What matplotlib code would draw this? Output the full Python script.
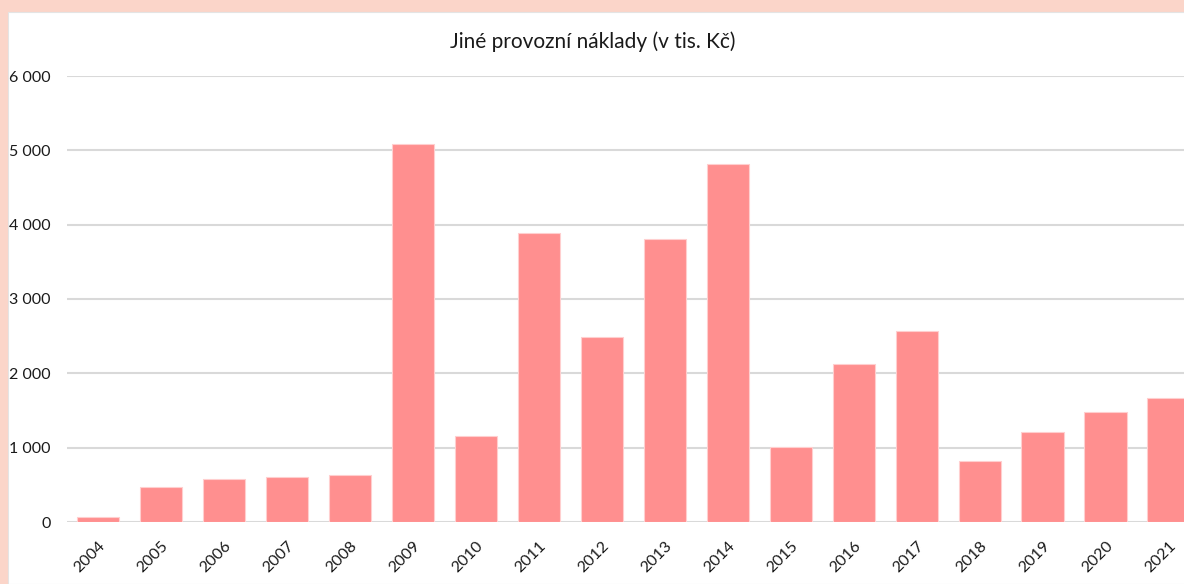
import matplotlib.pyplot as plt
from matplotlib.patches import Rectangle
from matplotlib.ticker import FuncFormatter
from matplotlib.transforms import ScaledTranslation

plt.rcParams['font.family'] = ['Lato', 'DejaVu Sans']

# data (v tis. Kč)
years = ['2004', '2005', '2006', '2007', '2008', '2009', '2010', '2011', '2012',
         '2013', '2014', '2015', '2016', '2017', '2018', '2019', '2020', '2021']
values = [67, 471, 578, 601, 636, 5085, 1157, 3884, 2485,
          3811, 4812, 1005, 2130, 2574, 821, 1211, 1484, 1668]
yticks = [0, 1000, 2000, 3000, 4000, 5000, 6000]

W, H = 1184, 584
fig = plt.figure(figsize=(W / 100, H / 100), dpi=100)
fig.patch.set_facecolor('#fbd5c9')
fig.patches.append(Rectangle((8 / W, 0), 1, (H - 12) / H, transform=fig.transFigure,
                             facecolor='white', edgecolor='#e4e4e4', linewidth=0.8, zorder=-5))

ax = fig.add_axes([66.5 / W, (H - 522) / H, (1200 - 66.5) / W, (522 - 76) / H])
ax.set_facecolor('none')
ax.set_zorder(2)

x = range(len(years))
ax.bar(x, values, width=0.67, color='#ff8f8f', edgecolor='#ffcfcf', linewidth=0.8, zorder=3)

ax.set_xlim(-0.5, len(years) - 0.5)
ax.set_ylim(0, 6000)
ax.set_yticks(yticks)
ax.yaxis.set_major_formatter(FuncFormatter(lambda v, p: f"{int(v):,}".replace(",", " ")))
ax.set_xticks(list(x))
ax.set_xticklabels(years, rotation=45, ha='right', rotation_mode='anchor')
shift = ScaledTranslation(-3 / 100, 0, fig.dpi_scale_trans)
for lab in ax.get_xticklabels():
    lab.set_transform(lab.get_transform() + shift)
ax.tick_params(axis='y', length=0, pad=11.5, labelsize=11.5, labelcolor='#1a1a1a')
ax.tick_params(axis='x', length=0, pad=12, labelsize=11.5, labelcolor='#1a1a1a')
ax.grid(axis='y', color='#d9d9d9', linewidth=1.5, zorder=0)
for s in ax.spines.values():
    s.set_visible(False)

fig.text(593 / W, 1 - 42 / H, 'Jiné provozní náklady (v tis. Kč)', ha='center', va='center',
         fontsize=15, color='#1a1a1a', zorder=3)

fig.savefig('out.png', dpi=100, facecolor=fig.get_facecolor())
